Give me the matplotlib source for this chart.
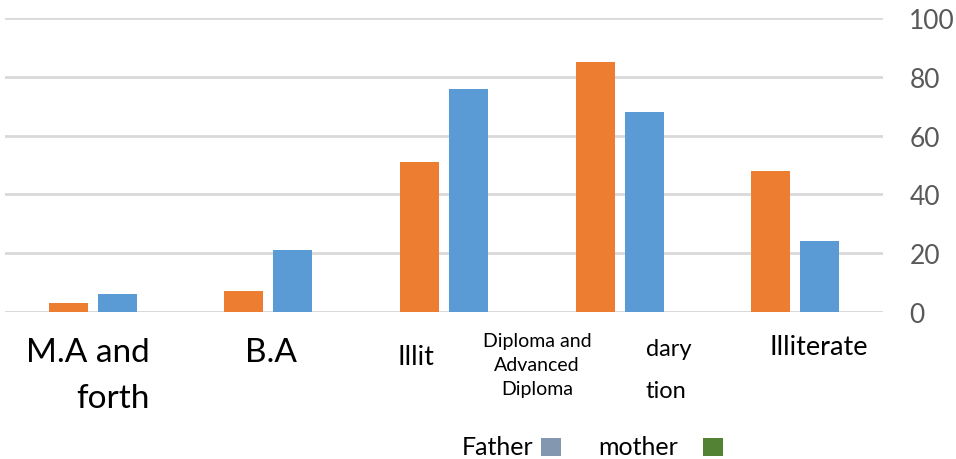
import numpy as np
import matplotlib.pyplot as plt
from matplotlib.patches import Rectangle

# Valeurs
categories = ["M.A and\nforth", "B.A", "Illit", "dary\ntion", "Illiterate"]
orange_vals = [3, 7, 51, 85, 48]
blue_vals = [6, 21, 76, 68, 24]
yticks = [0, 20, 40, 60, 80, 100]
overlay_label = "Diploma and\nAdvanced\nDiploma"
legend_labels = ["Father", "mother"]
legend_colors = ["#8497B0", "#548235"]

W, H = 956, 460
plt.rcParams['font.family'] = ['Lato', 'DejaVu Sans']

fig = plt.figure(figsize=(W / 100, H / 100), dpi=100)

# axes en pixels: gauche 5, droite 883, haut 19, bas 313
ax = fig.add_axes([5 / W, 1 - 313 / H, (883 - 5) / W, (313 - 19) / H])

x = np.arange(len(categories))
bw = 0.222
off = 0.14
ax.bar(x - off, orange_vals, bw, color="#ED7D31", zorder=3)
ax.bar(x + off, blue_vals, bw, color="#5B9BD5", zorder=3)

ax.set_xlim(-0.5, len(categories) - 0.5)
ax.set_ylim(0, 100)
ax.set_yticks(yticks)
ax.yaxis.tick_right()
ax.tick_params(axis='y', length=0, pad=19, labelsize=19, labelcolor="#595959")
ax.set_xticks([])
ax.grid(axis='y', color="#D9D9D9", linewidth=2, zorder=0)
for s in ax.spines.values():
    s.set_visible(False)
ax.axhline(0, color="#D9D9D9", linewidth=2, zorder=2)


def px(xp, yp):
    return xp / W, 1 - yp / H


# etiquettes des categories (placement irregulier comme l'original)
lab_pos = [(150, 'right', 24, 362, 46), (271, 'center', 24, 362, 46),
           (398, 'left', 19.5, 365, 41), (646, 'left', 17, 356, 42),
           (770, 'left', 19.5, 355, 41)]
for lab, (xp, ha, fs, base, step) in zip(categories, lab_pos):
    for k, ln in enumerate(lab.split("\n")):
        fx, fy = px(xp, base + k * step)
        fig.text(fx, fy, ln, ha=ha, va='baseline', fontsize=fs, color="black")

# boite de texte qui masque une partie des etiquettes
fx, fy = px(537, 333)
fig.text(fx, fy, overlay_label, ha='center', va='top', fontsize=14, color="black",
         linespacing=1.5,
         bbox=dict(facecolor='white', edgecolor='none', pad=4))

# legende
leg_x = [(462, 541), (598, 703)]
for lab, col, (tx, sx) in zip(legend_labels, legend_colors, leg_x):
    fx, fy = px(tx, 455)
    fig.text(fx, fy, lab, ha='left', va='baseline', fontsize=18, color="black")
    fx, fy = px(sx, 457)
    fig.patches.append(Rectangle((fx, fy), 20 / W, 18 / H, transform=fig.transFigure,
                                 facecolor=col, edgecolor='none'))

fig.savefig("out.png", dpi=100)
